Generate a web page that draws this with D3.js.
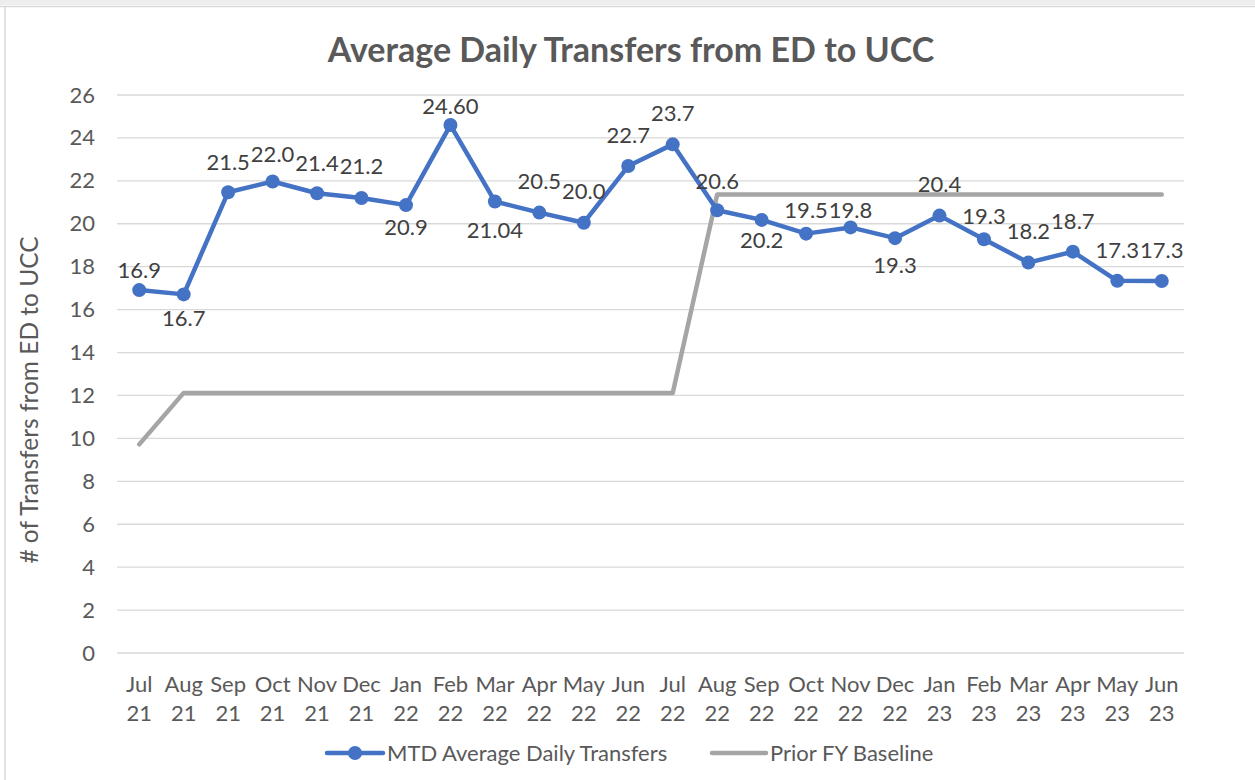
<!DOCTYPE html>
<html><head><meta charset="utf-8">
<script src="https://cdn.jsdelivr.net/npm/d3@7"></script>
<style>
html,body{margin:0;padding:0;background:#fff;}
svg{display:block;font-family:Lato,"Open Sans",sans-serif;}
</style></head>
<body>
<svg id="chart" width="1255" height="780"></svg>
<script>
const categories = ["Jul 21","Aug 21","Sep 21","Oct 21","Nov 21","Dec 21","Jan 22","Feb 22","Mar 22","Apr 22","May 22","Jun 22",
  "Jul 22","Aug 22","Sep 22","Oct 22","Nov 22","Dec 22","Jan 23","Feb 23","Mar 23","Apr 23","May 23","Jun 23"];
const mtdValues = [16.91,16.71,21.47,21.97,21.42,21.2,20.87,24.6,21.04,20.52,20.05,22.69,
  23.7,20.63,20.18,19.54,19.83,19.33,20.38,19.28,18.19,18.7,17.34,17.33];
const mtdLabels = ["16.9","16.7","21.5","22.0","21.4","21.2","20.9","24.60","21.04","20.5","20.0","22.7",
  "23.7","20.6","20.2","19.5","19.8","19.3","20.4","19.3","18.2","18.7","17.3","17.3"];
const baselineValues = [9.72,12.12,12.12,12.12,12.12,12.12,12.12,12.12,12.12,12.12,12.12,12.12,
  12.12,21.36,21.36,21.36,21.36,21.36,21.36,21.36,21.36,21.36,21.36,21.36];
const yTicks = [0,2,4,6,8,10,12,14,16,18,20,22,24,26];
// label vertical offset (text centre relative to point), layout only
const labelDy = [-20,24,-30,-27,-30,-32,22,-19,29,-31,-31,-31,
  -31,-29,20,-23,-17,27,-31,-23,-31,-30,-31,-31];

const svg = d3.select("#chart");
const W = 1255, H = 780;
const FS = 22;

// frame
svg.append("rect").attr("x",0).attr("y",0).attr("width",W).attr("height",5).attr("fill","#ededed");
svg.append("line").attr("x1",0).attr("x2",W).attr("y1",6.5).attr("y2",6.5).attr("stroke","#d9d9d9").attr("stroke-width",1.5);
svg.append("line").attr("x1",5).attr("x2",5).attr("y1",6.5).attr("y2",H).attr("stroke","#d9d9d9").attr("stroke-width",1.5);

const x = d3.scaleBand().domain(categories).range([117,1184]).padding(0);
const cx = d => x(d) + x.bandwidth()/2;
const y = d3.scaleLinear().domain([0,26]).range([653,95]);

// gridlines
svg.append("g").selectAll("line").data(yTicks).join("line")
  .attr("x1",117).attr("x2",1184)
  .attr("y1",d=>y(d)).attr("y2",d=>y(d))
  .attr("stroke","#d9d9d9").attr("stroke-width",1.3);

// y axis labels
const yAxis = d3.axisLeft(y).tickValues(yTicks).tickSize(0).tickPadding(0).tickFormat(d3.format("d"));
const gy = svg.append("g").attr("transform","translate(95,0)").call(yAxis);
gy.select(".domain").remove();
gy.selectAll("text").attr("font-size",FS).attr("fill","#595959").attr("font-family","Lato");

// x axis labels (two lines)
const xAxis = d3.axisBottom(x).tickSize(0).tickFormat("");
const gx = svg.append("g").attr("transform","translate(0,653)").call(xAxis);
gx.select(".domain").remove();
gx.selectAll(".tick").each(function(d){
  const parts = d.split(" ");
  const t = d3.select(this).append("text").attr("fill","#595959").attr("font-size",FS)
    .attr("font-family","Lato").attr("text-anchor","middle");
  t.append("tspan").attr("x",0).attr("y",39).text(parts[0]);
  t.append("tspan").attr("x",0).attr("y",68).text(parts[1]);
});

// baseline line
const line = d3.line().x((d,i)=>cx(categories[i])).y(d=>y(d));
svg.append("path").datum(baselineValues).attr("d",line)
  .attr("fill","none").attr("stroke","#a5a5a5").attr("stroke-width",4.5)
  .attr("stroke-linejoin","round").attr("stroke-linecap","round");

// MTD line
svg.append("path").datum(mtdValues).attr("d",line)
  .attr("fill","none").attr("stroke","#4472c4").attr("stroke-width",4.5)
  .attr("stroke-linejoin","round").attr("stroke-linecap","round");
svg.append("g").selectAll("circle").data(mtdValues).join("circle")
  .attr("cx",(d,i)=>cx(categories[i])).attr("cy",d=>y(d)).attr("r",7)
  .attr("fill","#4472c4");

// data labels
svg.append("g").selectAll("text").data(mtdValues).join("text")
  .attr("x",(d,i)=>cx(categories[i]))
  .attr("y",(d,i)=>y(d)+labelDy[i])
  .attr("dy","0.35em")
  .attr("text-anchor","middle").attr("font-size",FS).attr("fill","#404040")
  .attr("font-family","Lato")
  .text((d,i)=>mtdLabels[i]);

// title
svg.append("text").attr("x",631).attr("y",62).attr("text-anchor","middle")
  .attr("font-size",34).attr("font-weight","bold").attr("fill","#595959")
  .attr("font-family","Lato")
  .text("Average Daily Transfers from ED to UCC");

// y title
svg.append("text").attr("transform","translate(38,400) rotate(-90)")
  .attr("text-anchor","middle").attr("font-size",24.5).attr("fill","#595959")
  .attr("font-family","Lato")
  .text("# of Transfers from ED to UCC");

// legend
const lg = svg.append("g");
lg.append("line").attr("x1",327).attr("x2",383).attr("y1",753).attr("y2",753)
  .attr("stroke","#4472c4").attr("stroke-width",4.5).attr("stroke-linecap","round");
lg.append("circle").attr("cx",355).attr("cy",753).attr("r",7).attr("fill","#4472c4");
lg.append("text").attr("x",387).attr("y",753).attr("dy","0.35em").attr("font-size",FS)
  .attr("fill","#595959").attr("font-family","Lato").text("MTD Average Daily Transfers");
lg.append("line").attr("x1",712).attr("x2",766).attr("y1",753).attr("y2",753)
  .attr("stroke","#a5a5a5").attr("stroke-width",4.5).attr("stroke-linecap","round");
lg.append("text").attr("x",770).attr("y",753).attr("dy","0.35em").attr("font-size",FS)
  .attr("fill","#595959").attr("font-family","Lato").text("Prior FY Baseline");
</script>
</body></html>
